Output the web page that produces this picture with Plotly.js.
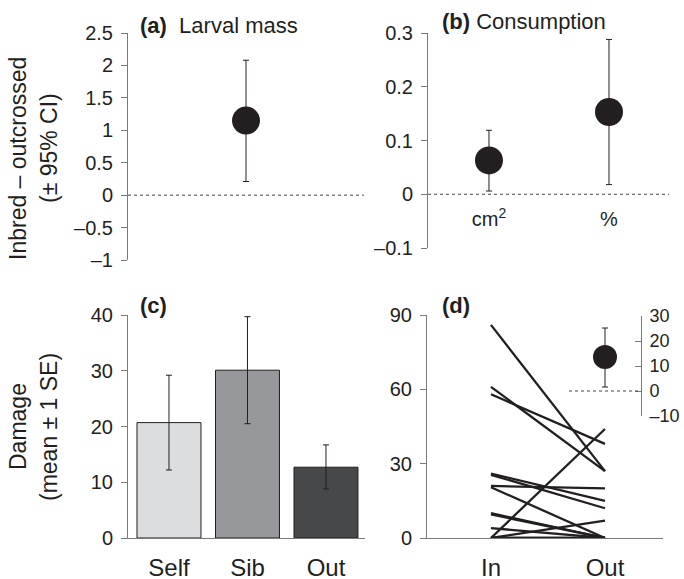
<!DOCTYPE html>
<html>
<head>
<meta charset="utf-8">
<script src="https://cdn.plot.ly/plotly-3.0.1.min.js"></script>
<style>html,body{margin:0;padding:0;background:#fff;}#chart{width:684px;height:579px;}</style>
</head>
<body>
<div id="chart"></div>
<script>
// ---- Data ----
// (a) Larval mass: inbred - outcrossed (± 95% CI)
const massMean = [1.15];
const massLow = [0.21];
const massHigh = [2.08];

// (b) Consumption: inbred - outcrossed (± 95% CI)
const consLabels = ['cm<sup>2</sup>', '%'];
const consMean = [0.063, 0.153];
const consLow = [0.006, 0.018];
const consHigh = [0.119, 0.288];

// (c) Damage by cross type (mean ± 1 SE)
const crossTypes = ['Self', 'Sib', 'Out'];
const damageMean = [20.7, 30.1, 12.7];
const damageLow = [12.2, 20.5, 8.8];
const damageHigh = [29.2, 39.7, 16.7];
const barColors = ['#dcdddf', '#97989c', '#47484a'];

// (d) Paired damage: inbred vs outcrossed
const pairLabels = ['In', 'Out'];
const inDamage  = [86, 61, 58, 26, 25.5, 21, 20.5, 10, 9.5, 4, 0, 0, 0, 0];
const outDamage = [27, 27, 38, 15, 12,   20, 0,    0,  0,   0, 44, 7, 0, 0];

// (d) inset: difference (± 95% CI)
const diffMean = [13.6];
const diffLow = [1.6];
const diffHigh = [25.2];

// ---- Helpers ----
const W = 684, H = 579;
const px = v => v / W;
const py = v => 1 - v / H;
const INK = '#231f20';
const AX = '#7a7a7a';
const FONT = 'Liberation Sans, Arial, sans-serif';
const minus = v => (v < 0 ? '\u2013' + String(-v) : String(v));

function ciErr(mean, lo, hi, w) {
  return {
    type: 'data', symmetric: false,
    array: mean.map((m, i) => hi[i] - m),
    arrayminus: mean.map((m, i) => m - lo[i]),
    color: INK, thickness: 1, width: w
  };
}

// pairs -> single line trace with gaps
const pairX = [], pairY = [];
inDamage.forEach((v, i) => {
  pairX.push(pairLabels[0], pairLabels[1], null);
  pairY.push(v, outDamage[i], null);
});

const traces = [
  { type: 'scatter', mode: 'markers', x: [0.5], y: massMean, xaxis: 'x', yaxis: 'y',
    marker: { size: 28, color: INK }, error_y: ciErr(massMean, massLow, massHigh, 3), hoverinfo: 'skip' },
  { type: 'scatter', mode: 'markers', x: [1, 2], y: consMean, xaxis: 'x2', yaxis: 'y2',
    marker: { size: 28, color: INK }, error_y: ciErr(consMean, consLow, consHigh, 3), hoverinfo: 'skip' },
  { type: 'scatter', mode: 'text', x: [1, 2], y: consLabels.map(() => -0.05), text: consLabels,
    xaxis: 'x2', yaxis: 'y2', textposition: 'middle center',
    textfont: { size: 20, color: INK, family: FONT }, hoverinfo: 'skip' },
  { type: 'bar', x: crossTypes, y: damageMean, xaxis: 'x3', yaxis: 'y3', width: 0.815,
    marker: { color: barColors, line: { color: INK, width: 1 } },
    error_y: ciErr(damageMean, damageLow, damageHigh, 3), hoverinfo: 'skip' },
  { type: 'scatter', mode: 'lines', x: pairX, y: pairY, xaxis: 'x4', yaxis: 'y4',
    line: { color: INK, width: 2.3 }, connectgaps: false, hoverinfo: 'skip' },
  { type: 'scatter', mode: 'markers', x: [0.5], y: diffMean, xaxis: 'x5', yaxis: 'y5',
    marker: { size: 24, color: INK }, error_y: ciErr(diffMean, diffLow, diffHigh, 3), hoverinfo: 'skip' }
];

const yBase = {
  showline: true, linecolor: AX, linewidth: 1, ticks: 'outside', ticklen: 6, tickcolor: AX,
  tickfont: { size: 20, color: INK, family: FONT }, zeroline: false, showgrid: false,
  ticklabelstandoff: 4, fixedrange: true
};

function ticks(vals) { return { tickmode: 'array', tickvals: vals, ticktext: vals.map(minus) }; }

const catX = {
  type: 'category', showline: true, linecolor: AX, linewidth: 1, ticks: '', showgrid: false, zeroline: false,
  tickfont: { size: 24, color: INK, family: FONT }, ticklabelstandoff: 8, fixedrange: true
};

const layout = {
  width: W, height: H, margin: { l: 0, r: 0, t: 0, b: 0 },
  paper_bgcolor: '#fff', plot_bgcolor: 'rgba(0,0,0,0)', showlegend: false,
  font: { family: FONT, color: INK },
  xaxis:  { domain: [px(128), px(364)], range: [0, 1], visible: false, anchor: 'y' },
  yaxis:  Object.assign({}, yBase, ticks([-1, -0.5, 0, 0.5, 1, 1.5, 2, 2.5]),
          { domain: [py(260), py(33)], range: [-1, 2.5], anchor: 'x' }),
  xaxis2: { domain: [px(428), px(669)], range: [0.492, 2.5], visible: false, anchor: 'y2' },
  yaxis2: Object.assign({}, yBase, ticks([-0.1, 0, 0.1, 0.2, 0.3]),
          { domain: [py(248), py(33)], range: [-0.1, 0.3], anchor: 'x2' }),
  xaxis3: Object.assign({}, catX, { domain: [px(128), px(365)], range: [-0.522, 2.497], anchor: 'y3' }),
  yaxis3: Object.assign({}, yBase, ticks([0, 10, 20, 30, 40]),
          { domain: [py(538), py(315)], range: [0, 40], anchor: 'x3' }),
  xaxis4: Object.assign({}, catX, { domain: [px(427), px(663)], range: [-0.561, 1.509], anchor: 'y4' }),
  yaxis4: Object.assign({}, yBase, ticks([0, 30, 60, 90]),
          { domain: [py(538), py(315)], range: [0, 90], anchor: 'x4' }),
  xaxis5: { domain: [px(569), px(641)], range: [0, 1], visible: false, anchor: 'y5' },
  yaxis5: Object.assign({}, yBase, ticks([-10, 0, 10, 20, 30]),
          { domain: [py(416), py(316)], range: [-10, 30], anchor: 'x5', side: 'right',
            ticks: 'inside', ticklen: 6, tickfont: { size: 18, color: INK, family: FONT } }),
  shapes: [
    { type: 'line', xref: 'x domain', yref: 'y', x0: 0, x1: 1, y0: 0, y1: 0, line: { color: '#444', width: 1, dash: 'dot' } },
    { type: 'line', xref: 'x2 domain', yref: 'y2', x0: 0, x1: 1, y0: 0, y1: 0, line: { color: '#444', width: 1, dash: 'dot' } },
    { type: 'line', xref: 'x5 domain', yref: 'y5', x0: 0, x1: 1, y0: 0, y1: 0, line: { color: '#444', width: 1, dash: 'dot' } }
  ],
  annotations: [
    { xref: 'paper', yref: 'paper', x: px(138), y: py(25), xanchor: 'left', yanchor: 'middle', showarrow: false,
      text: '<b>(a)</b>  Larval mass', font: { size: 22, color: INK } },
    { xref: 'paper', yref: 'paper', x: px(440), y: py(22), xanchor: 'left', yanchor: 'middle', showarrow: false,
      text: '<b>(b)</b> Consumption', font: { size: 22, color: INK } },
    { xref: 'paper', yref: 'paper', x: px(138), y: py(305), xanchor: 'left', yanchor: 'middle', showarrow: false,
      text: '<b>(c)</b>', font: { size: 22, color: INK } },
    { xref: 'paper', yref: 'paper', x: px(440), y: py(305), xanchor: 'left', yanchor: 'middle', showarrow: false,
      text: '<b>(d)</b>', font: { size: 22, color: INK } },
    { xref: 'paper', yref: 'paper', x: px(18), y: py(159), xanchor: 'center', yanchor: 'middle', showarrow: false,
      textangle: -90, text: 'Inbred \u2013 outcrossed', font: { size: 23, color: INK } },
    { xref: 'paper', yref: 'paper', x: px(49), y: py(148), xanchor: 'center', yanchor: 'middle', showarrow: false,
      textangle: -90, text: '(\u00b1 95% CI)', font: { size: 23, color: INK } },
    { xref: 'paper', yref: 'paper', x: px(18), y: py(427), xanchor: 'center', yanchor: 'middle', showarrow: false,
      textangle: -90, text: 'Damage', font: { size: 23, color: INK } },
    { xref: 'paper', yref: 'paper', x: px(49), y: py(427), xanchor: 'center', yanchor: 'middle', showarrow: false,
      textangle: -90, text: '(mean \u00b1 1 SE)', font: { size: 23, color: INK } }
  ]
};

Plotly.newPlot('chart', traces, layout, { displayModeBar: false, staticPlot: true });
</script>
</body>
</html>
